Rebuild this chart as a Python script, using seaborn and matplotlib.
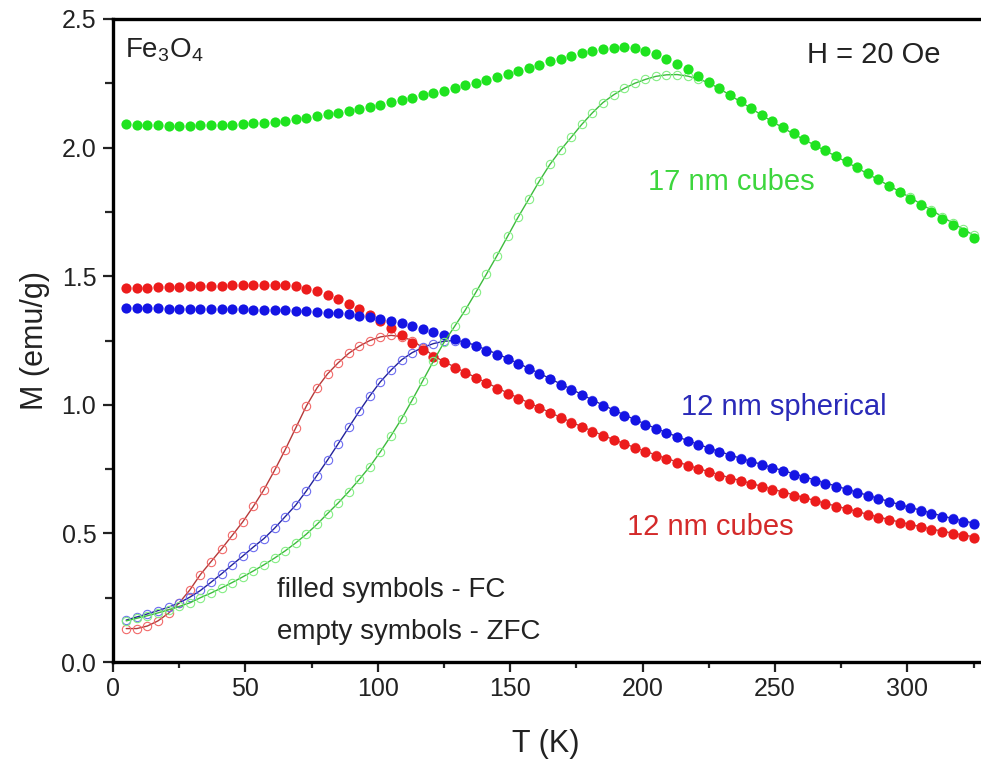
import numpy as np
import pandas as pd
import matplotlib
matplotlib.use("Agg")
import matplotlib.pyplot as plt
from matplotlib.ticker import MultipleLocator
import seaborn as sns

# ---------------- data ----------------
T = [5, 9, 13, 17, 21, 25, 29, 33, 37, 41, 45, 49, 53, 57, 61, 65, 69, 73, 77, 81,
     85, 89, 93, 97, 101, 105, 109, 113, 117, 121, 125, 129, 133, 137, 141, 145, 149, 153, 157, 161,
     165, 169, 173, 177, 181, 185, 189, 193, 197, 201, 205, 209, 213, 217, 221, 225, 229, 233, 237, 241,
     245, 249, 253, 257, 261, 265, 269, 273, 277, 281, 285, 289, 293, 297, 301, 305, 309, 313, 317, 321,
     325]

green_fc = [2.090, 2.088, 2.087, 2.086, 2.085, 2.085, 2.085, 2.086, 2.086, 2.087, 2.089, 2.091, 2.094, 2.097, 2.101, 2.105, 2.110, 2.116, 2.122, 2.129,
            2.136, 2.143, 2.151, 2.159, 2.167, 2.176, 2.185, 2.194, 2.203, 2.212, 2.222, 2.232, 2.242, 2.253, 2.264, 2.275, 2.287, 2.299, 2.311, 2.323,
            2.335, 2.346, 2.357, 2.367, 2.376, 2.384, 2.389, 2.390, 2.386, 2.376, 2.362, 2.345, 2.326, 2.304, 2.280, 2.256, 2.231, 2.206, 2.180, 2.154,
            2.128, 2.103, 2.079, 2.055, 2.033, 2.011, 1.990, 1.968, 1.946, 1.923, 1.900, 1.876, 1.852, 1.827, 1.802, 1.776, 1.750, 1.724, 1.698, 1.673,
            1.648]

green_zfc = [0.160, 0.170, 0.180, 0.191, 0.203, 0.216, 0.230, 0.250, 0.268, 0.288, 0.309, 0.331, 0.354, 0.378, 0.404, 0.432, 0.463, 0.497, 0.535, 0.577,
             0.618, 0.662, 0.710, 0.760, 0.818, 0.880, 0.946, 1.019, 1.094, 1.170, 1.243, 1.305, 1.368, 1.437, 1.508, 1.580, 1.655, 1.730, 1.800, 1.870,
             1.935, 1.990, 2.040, 2.090, 2.135, 2.175, 2.205, 2.230, 2.250, 2.265, 2.277, 2.283, 2.284, 2.278, 2.267, 2.252, 2.229, 2.204, 2.178, 2.152,
             2.126, 2.101, 2.077, 2.053, 2.031, 2.009, 1.988, 1.966, 1.944, 1.921, 1.898, 1.875, 1.852, 1.829, 1.806, 1.781, 1.757, 1.732, 1.707, 1.683,
             1.659]

red_fc = [1.455, 1.455, 1.456, 1.457, 1.458, 1.459, 1.460, 1.461, 1.462, 1.463, 1.464, 1.465, 1.466, 1.467, 1.467, 1.465, 1.460, 1.452, 1.441, 1.428,
          1.411, 1.392, 1.371, 1.348, 1.324, 1.297, 1.270, 1.242, 1.214, 1.186, 1.165, 1.144, 1.123, 1.103, 1.083, 1.063, 1.043, 1.024, 1.005, 0.986,
          0.967, 0.948, 0.930, 0.912, 0.895, 0.878, 0.862, 0.846, 0.831, 0.816, 0.802, 0.788, 0.775, 0.762, 0.749, 0.737, 0.725, 0.713, 0.702, 0.691,
          0.680, 0.669, 0.658, 0.647, 0.636, 0.625, 0.614, 0.603, 0.593, 0.582, 0.571, 0.561, 0.551, 0.541, 0.532, 0.523, 0.514, 0.506, 0.498, 0.491,
          0.484]

red_zfc = [0.130, 0.130, 0.140, 0.160, 0.190, 0.230, 0.280, 0.340, 0.390, 0.440, 0.492, 0.545, 0.605, 0.670, 0.745, 0.825, 0.910, 0.995, 1.065, 1.120,
           1.163, 1.200, 1.228, 1.250, 1.264, 1.270, 1.265, 1.250, 1.222, 1.190, 1.168, 1.147, 1.126, 1.106, 1.086, 1.066, 1.046, 1.027, 1.008, 0.989,
           0.970, 0.951, 0.933, 0.915, 0.898, 0.881, 0.865, 0.849, 0.834, 0.819, 0.805, 0.791, 0.778, 0.765, 0.752, 0.740, 0.728, 0.716, 0.705, 0.694,
           0.683, 0.672, 0.661, 0.650, 0.639, 0.628, 0.617, 0.606, 0.596, 0.585, 0.574, 0.564, 0.554, 0.544, 0.535, 0.526, 0.517, 0.509, 0.501, 0.494,
           0.487]

blue_fc = [1.375, 1.375, 1.375, 1.375, 1.374, 1.374, 1.374, 1.373, 1.373, 1.372, 1.372, 1.371, 1.370, 1.369, 1.368, 1.367, 1.365, 1.363, 1.360, 1.358,
           1.356, 1.352, 1.347, 1.341, 1.334, 1.326, 1.317, 1.307, 1.296, 1.284, 1.271, 1.257, 1.242, 1.227, 1.211, 1.195, 1.177, 1.158, 1.139, 1.119,
           1.099, 1.078, 1.058, 1.037, 1.016, 0.996, 0.977, 0.958, 0.940, 0.922, 0.905, 0.889, 0.873, 0.858, 0.843, 0.829, 0.815, 0.802, 0.789, 0.777,
           0.765, 0.753, 0.741, 0.729, 0.717, 0.705, 0.693, 0.681, 0.669, 0.657, 0.645, 0.633, 0.621, 0.609, 0.598, 0.587, 0.576, 0.565, 0.555, 0.546,
           0.537]

blue_zfc = [0.163, 0.175, 0.187, 0.200, 0.213, 0.230, 0.252, 0.278, 0.310, 0.343, 0.378, 0.412, 0.447, 0.480, 0.520, 0.565, 0.610, 0.665, 0.725, 0.785,
            0.848, 0.912, 0.975, 1.035, 1.090, 1.135, 1.175, 1.203, 1.223, 1.238, 1.247, 1.250, 1.245, 1.230, 1.214, 1.198, 1.180, 1.161, 1.142, 1.122,
            1.102, 1.081, 1.061, 1.040, 1.019, 0.999, 0.980, 0.961, 0.943, 0.925, 0.908, 0.892, 0.876, 0.861, 0.846, 0.832, 0.818, 0.805, 0.792, 0.780,
            0.768, 0.756, 0.744, 0.732, 0.720, 0.708, 0.696, 0.684, 0.672, 0.660, 0.648, 0.636, 0.624, 0.612, 0.601, 0.590, 0.579, 0.568, 0.558, 0.549,
            0.540]

x_ticks = [0, 50, 100, 150, 200, 250, 300]
y_ticks = [0.0, 0.5, 1.0, 1.5, 2.0, 2.5]
x_tick_labels = ["0", "50", "100", "150", "200", "250", "300"]
y_tick_labels = ["0.0", "0.5", "1.0", "1.5", "2.0", "2.5"]

# ---------------- style ----------------
sns.set_theme(style="white")
plt.rcParams["font.family"] = ["Liberation Sans", "DejaVu Sans"]
plt.rcParams["mathtext.default"] = "regular"

fig = plt.figure(figsize=(9.81, 7.64), dpi=100)
ax = fig.add_axes([113 / 981, 102 / 764, 866 / 981, 643 / 764])

frames = {}
for name, zfc, fc in [("red", red_zfc, red_fc), ("blue", blue_zfc, blue_fc), ("green", green_zfc, green_fc)]:
    frames[name] = (pd.DataFrame({"T": T, "M": zfc}), pd.DataFrame({"T": T, "M": fc}))

style = {
    "red":   dict(fc="#ec1c1c", line="#b53a3a", mark="#f26a6a"),
    "blue":  dict(fc="#1414e4", line="#22229a", mark="#6c6cf0"),
    "green": dict(fc="#1fe31f", line="#3dbb3d", mark="#84ee84"),
}

def draw_zfc(name, z):
    d = frames[name][0]
    s = style[name]
    sns.lineplot(data=d, x="T", y="M", ax=ax, color=s["line"], linewidth=1.0,
                 marker="o", markersize=6.0, markerfacecolor="none",
                 markeredgecolor=s["mark"], markeredgewidth=0.8, zorder=z,
                 sort=False, estimator=None)

def draw_fc(name, z):
    d = frames[name][1]
    s = style[name]
    sns.scatterplot(data=d, x="T", y="M", ax=ax, color=s["fc"], s=54,
                    linewidth=0, zorder=z)

draw_zfc("red", 2)
draw_zfc("blue", 2.1)
draw_fc("red", 3)
draw_fc("blue", 3.1)
draw_zfc("green", 3.5)
draw_fc("green", 4)

# ---------------- axes ----------------
ax.set_xlim(0, 327)
ax.set_ylim(0, 2.5)
ax.set_xticks(x_ticks)
ax.set_xticklabels(x_tick_labels)
ax.set_yticks(y_ticks)
ax.set_yticklabels(y_tick_labels)
ax.xaxis.set_minor_locator(MultipleLocator(25))
ax.yaxis.set_minor_locator(MultipleLocator(0.25))
ax.tick_params(axis="both", which="major", direction="out", length=7, width=1.6,
               labelsize=18, colors="#222222", left=True, bottom=True, pad=4)
ax.tick_params(axis="x", which="minor", direction="out", length=4, width=1.6, bottom=True)
ax.tick_params(axis="y", which="minor", direction="out", length=6, width=1.6, left=True)
ax.tick_params(axis="y", which="major", pad=5)

for side in ["left", "bottom", "top"]:
    ax.spines[side].set_visible(True)
    ax.spines[side].set_linewidth(2.4)
    ax.spines[side].set_color("black")
ax.spines["right"].set_visible(False)
ax.grid(False)

ax.set_xlabel("T (K)", fontsize=22, color="#222222", labelpad=20)
ax.set_ylabel("M (emu/g)", fontsize=22, color="#222222", labelpad=8)

# ---------------- annotations ----------------
ax.text(4.5, 2.38, "Fe$_3$O$_4$", fontsize=20, color="#222222", ha="left", va="center")
ax.text(262, 2.36, "H = 20 Oe", fontsize=21, color="#222222", ha="left", va="center")
ax.text(202, 1.865, "17 nm cubes", fontsize=21, color="#3dd63d", ha="left", va="center")
ax.text(214.5, 0.99, "12 nm spherical", fontsize=21, color="#2a2ab8", ha="left", va="center")
ax.text(194, 0.525, "12 nm cubes", fontsize=21, color="#d42a2a", ha="left", va="center")
ax.text(62, 0.28, "filled symbols - FC", fontsize=20, color="#222222", ha="left", va="center")
ax.text(62, 0.117, "empty symbols - ZFC", fontsize=20, color="#222222", ha="left", va="center")

fig.savefig("out.png", dpi=100)
